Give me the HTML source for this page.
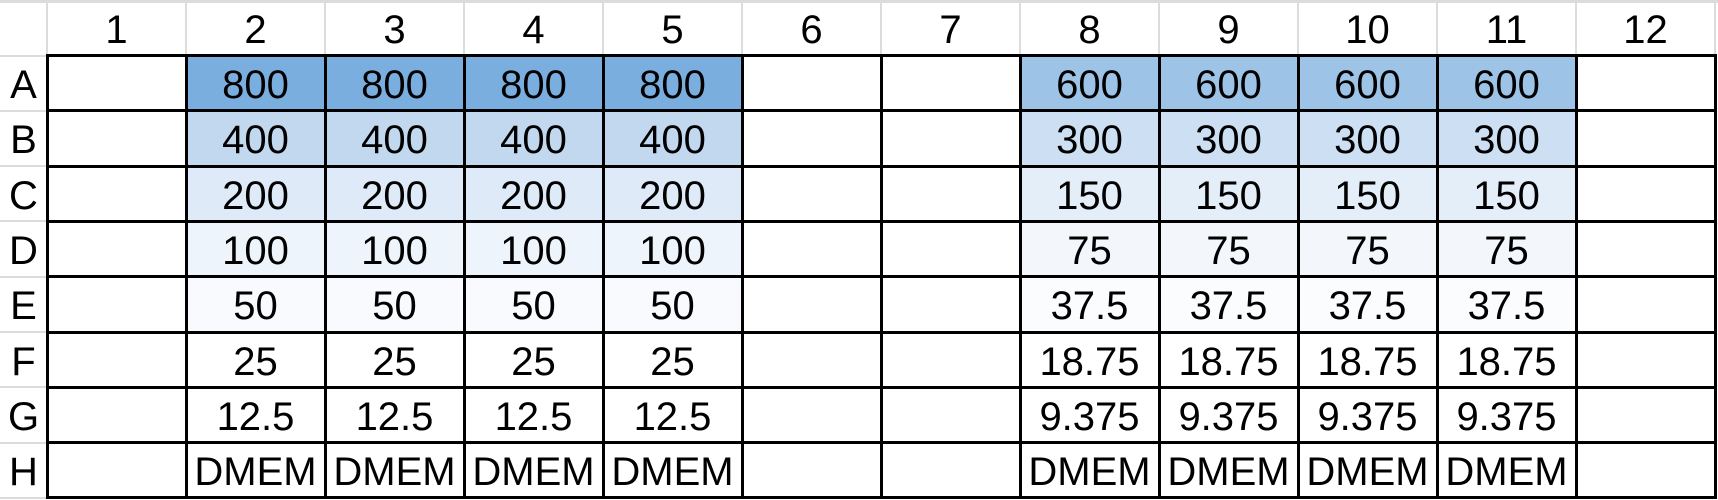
<!DOCTYPE html>
<html><head><meta charset="utf-8"><style>
body{margin:0;background:#fff;}
#plate{position:relative;width:1718px;height:500px;overflow:hidden;font-family:"Liberation Sans",sans-serif;}
.c{position:absolute;display:flex;align-items:center;justify-content:center;font-size:40px;color:#000;box-sizing:border-box;padding-top:5px;}
.vl,.hl{position:absolute;}
</style></head><body>
<div id="plate"></div>
<script>
const colLabels=["1","2","3","4","5","6","7","8","9","10","11","12"];
const rowLabels=["A","B","C","D","E","F","G","H"];
const leftValues=["800","400","200","100","50","25","12.5","DMEM"];
const rightValues=["600","300","150","75","37.5","18.75","9.375","DMEM"];
const leftCols=[2,3,4,5];
const rightCols=[8,9,10,11];
const leftColors=["#7aaede","#c1d8ef","#deeaf7","#eef4fb","#f8fafd","#fff","#fff","#fff"];
const rightColors=["#9dc3e6","#cde0f3","#e4eef9","#f3f7fc","#fafcfe","#fff","#fff","#fff"];
const X0=47,CW=139,Y0=55.5,RH=55.3;
const p=document.getElementById('plate');
function cell(x,y,w,h,t,bg,name){const d=document.createElement('div');d.className='c';
d.style.left=x+'px';d.style.top=y+'px';d.style.width=w+'px';d.style.height=h+'px';
if(bg)d.style.background=bg;d.textContent=t;


p.appendChild(d);return d;}
colLabels.forEach((l,i)=>cell(X0+i*CW,0,CW,Y0,l,null,'column-header-'+l));
rowLabels.forEach((l,j)=>cell(0,Y0+j*RH,X0,RH,l,null,'row-header-'+l));
rowLabels.forEach((r,j)=>{colLabels.forEach((c,i)=>{const ci=i+1;let t='',bg='#fff';
const li=leftCols.indexOf(ci),ri=rightCols.indexOf(ci);
if(li>=0){t=leftValues[j];bg=leftColors[j];}
if(ri>=0){t=rightValues[j];bg=rightColors[j];}
cell(X0+i*CW,Y0+j*RH,CW,RH,t,bg,'well-'+r+c);});});
for(let i=0;i<=12;i++){const v=document.createElement('div');v.className='vl';
v.style.left=(X0+i*CW-1)+'px';v.style.top='0px';v.style.width='2px';v.style.height=Y0+'px';v.style.background='#dcdcdc';


p.appendChild(v);}
for(let j=0;j<=8;j++){const v=document.createElement('div');v.className='hl';
v.style.left='0px';v.style.top=(Y0+j*RH-1)+'px';v.style.width=X0+'px';v.style.height='2px';v.style.background='#dcdcdc';


p.appendChild(v);}
{const v=document.createElement('div');v.className='hl';v.style.left='0px';v.style.top='0px';v.style.width='1718px';v.style.height='3px';v.style.background='#dcdcdc';


p.appendChild(v);}
for(let i=0;i<=12;i++){const v=document.createElement('div');v.className='vl';
v.style.left=(X0+i*CW-1.5)+'px';v.style.top=(Y0-1.5)+'px';v.style.width='3px';v.style.height=(8*RH+3)+'px';v.style.background='#000';


p.appendChild(v);}
for(let j=0;j<=8;j++){const v=document.createElement('div');v.className='hl';
v.style.left=(X0-1.5)+'px';v.style.top=(Y0+j*RH-1.5)+'px';v.style.width=(12*CW+3)+'px';v.style.height='3px';v.style.background='#000';


p.appendChild(v);}
</script>
</body></html>
